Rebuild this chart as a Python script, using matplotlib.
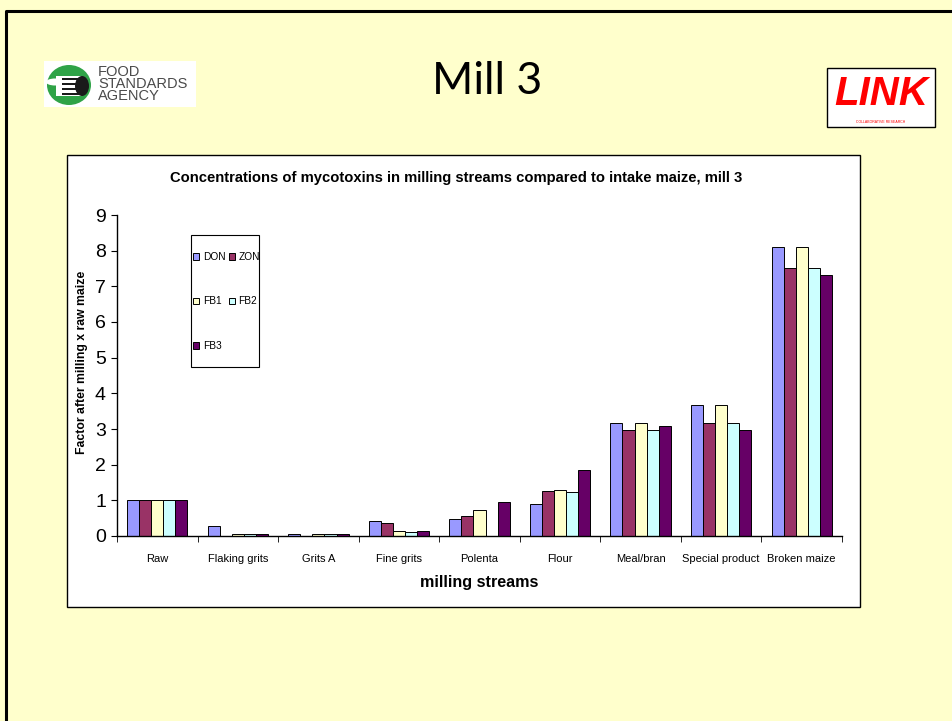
import numpy as np
import matplotlib
matplotlib.use('Agg')
import matplotlib.pyplot as plt
from matplotlib.patches import Rectangle, Ellipse

# data
categories = ['Raw', 'Flaking grits', 'Grits A', 'Fine grits', 'Polenta',
              'Flour', 'Meal/bran', 'Special product', 'Broken maize']
series = ['DON', 'ZON', 'FB1', 'FB2', 'FB3']
don = [1.0, 0.27, 0.05, 0.43, 0.49, 0.90, 3.18, 3.66, 8.10]
zon = [1.0, 0.0, 0.0, 0.37, 0.55, 1.25, 2.98, 3.18, 7.52]
fb1 = [1.0, 0.07, 0.07, 0.15, 0.72, 1.30, 3.18, 3.66, 8.10]
fb2 = [1.0, 0.07, 0.05, 0.10, 0.0, 1.22, 2.98, 3.18, 7.52]
fb3 = [1.0, 0.07, 0.07, 0.15, 0.95, 1.86, 3.09, 2.98, 7.32]
colors = ['#9999FF', '#993366', '#FFFFCC', '#CCFFFF', '#660066']

plt.rcParams['font.family'] = ['Liberation Sans', 'DejaVu Sans']

fig = plt.figure(figsize=(9.52, 7.21), dpi=100)
fig.patch.set_facecolor('#FFFFCC')

# decoration layer in pixel coordinates
bg = fig.add_axes([0, 0, 1, 1], zorder=0)
bg.set_xlim(0, 952)
bg.set_ylim(721, 0)
bg.axis('off')
bg.plot([6, 6, 952], [721, 11, 11], color='black', lw=2.2, solid_capstyle='butt')
bg.add_patch(Rectangle((67, 155), 793, 452, facecolor='white', edgecolor='black', lw=1.0))
bg.text(487, 82, 'Mill 3', fontsize=32, family='Lato', ha='center', va='center')

# FSA logo
bg.add_patch(Rectangle((44, 61), 152, 46, facecolor='white', edgecolor='none'))
bg.add_patch(Ellipse((69, 85), 44, 40, facecolor='#2FA347', edgecolor='none'))
bg.add_patch(Rectangle((56, 76), 26, 20, facecolor='white', edgecolor='none'))
bg.add_patch(Ellipse((55, 82), 18, 7, facecolor='white', edgecolor='none'))
bg.add_patch(Ellipse((82, 86), 14, 20, facecolor='#1A1A1A', edgecolor='none'))
for yy in [77.5, 82.5, 87.5, 92.5]:
    bg.add_patch(Rectangle((62, yy), 20, 2.6, facecolor='#1A1A1A', edgecolor='none'))
bg.text(98, 84, 'FOOD\nSTANDARDS\nAGENCY', fontsize=10.5, color='#4A4A4A',
        ha='left', va='center', linespacing=0.82)

# LINK logo
bg.add_patch(Rectangle((827, 68), 108, 59, facecolor='white', edgecolor='black', lw=1.0))
bg.text(881, 94, 'LINK', fontsize=29, fontweight='bold', style='italic', color='red',
        ha='center', va='center')
bg.text(881, 122, 'COLLABORATIVE RESEARCH', fontsize=2.5, color='red', ha='center', va='center')

# legend box
bg.add_patch(Rectangle((191, 235), 68, 132, facecolor='white', edgecolor='black', lw=0.8))

# chart
ax = fig.add_axes([117 / 952, 1 - 536 / 721, 725 / 952, 321 / 721], zorder=1)
ax.patch.set_alpha(0)
x = np.arange(len(categories))
w = 0.15
data = [don, zon, fb1, fb2, fb3]
for i, (name, vals) in enumerate(zip(series, data)):
    ax.bar(x + (i - 2) * w, vals, w, color=colors[i], edgecolor='black', lw=0.7, label=name)

ax.set_xlim(-0.5, len(categories) - 0.5)
ax.set_ylim(0, 9)
ax.set_yticks(range(10))
ax.set_xticks(x)
ax.set_xticklabels(categories, fontsize=8)
ax.set_xticks(np.arange(len(categories) + 1) - 0.5, minor=True)
ax.tick_params(axis='x', which='major', length=0, pad=13)
ax.tick_params(axis='x', which='minor', length=4, direction='out')
ax.tick_params(axis='y', length=4, direction='out', labelsize=14, pad=4)
for s in ['top', 'right']:
    ax.spines[s].set_visible(False)
ax.spines['left'].set_linewidth(1.0)
ax.spines['bottom'].set_linewidth(1.0)

fig.text(456 / 952, 1 - 178 / 721,
         'Concentrations of mycotoxins in milling streams compared to intake maize, mill 3',
         fontsize=10.6, fontweight='bold', ha='center', va='center')
fig.text(479 / 952, 1 - 583 / 721, 'milling streams', fontsize=11.6, fontweight='bold',
         ha='center', va='center')
fig.text(82 / 952, 1 - 362 / 721, 'Factor after milling x raw maize', fontsize=8.8,
         fontweight='bold', rotation=90, ha='center', va='center')

h, l = ax.get_legend_handles_labels()
order = [0, 2, 4, 1, 3]
leg = ax.legend([h[k] for k in order], [l[k] for k in order], ncol=2,
                loc='upper left', bbox_to_anchor=(193 / 952, 1 - 252 / 721),
                bbox_transform=fig.transFigure, fontsize=7.3, frameon=False,
                handlelength=0.6, handleheight=0.6, handletextpad=0.35,
                columnspacing=0.35, labelspacing=3.4, borderpad=0, borderaxespad=0)

fig.savefig('out.png', dpi=100, facecolor=fig.get_facecolor())
